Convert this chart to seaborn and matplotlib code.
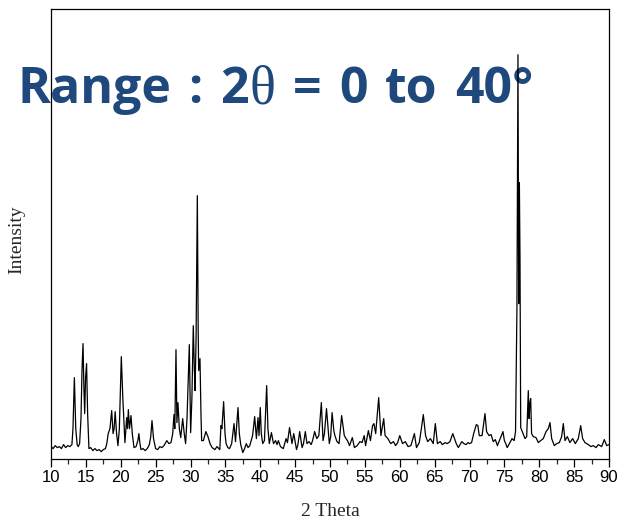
import matplotlib
matplotlib.use("Agg")
import matplotlib.pyplot as plt
import pandas as pd
import seaborn as sns
from matplotlib.offsetbox import TextArea, HPacker, AnnotationBbox
from matplotlib.ticker import MultipleLocator

# Powder diffraction pattern: scattering angle (degrees) and intensity (a.u.)
two_theta = [
    10.0, 10.3, 10.6, 10.9, 11.2, 11.5, 11.8, 12.1, 12.4, 12.7, 13.0, 13.15, 13.35, 13.55, 13.75,
    13.9, 14.1, 14.3, 14.45, 14.59, 14.72, 14.83, 14.95, 15.1, 15.25, 15.44, 15.7, 16.0, 16.3,
    16.6, 16.9, 17.2, 17.5, 17.8, 18.0, 18.2, 18.45, 18.7, 18.9, 19.05, 19.2, 19.4, 19.6, 19.8,
    20.08, 20.3, 20.6, 20.85, 20.97, 21.09, 21.25, 21.47, 21.65, 21.9, 22.2, 22.45, 22.6, 22.75,
    22.9, 23.2, 23.5, 23.8, 24.1, 24.3, 24.48, 24.7, 25.0, 25.3, 25.6, 25.9, 26.2, 26.6, 26.9,
    27.2, 27.45, 27.63, 27.75, 27.92, 28.05, 28.2, 28.4, 28.6, 28.88, 29.1, 29.3, 29.5, 29.83,
    30.02, 30.2, 30.4, 30.55, 30.65, 30.8, 30.98, 31.1, 31.17, 31.36, 31.5, 31.6, 31.85, 32.2,
    32.5, 32.8, 33.1, 33.5, 33.8, 34.2, 34.37, 34.5, 34.75, 34.95, 35.1, 35.35, 35.6, 35.9,
    36.24, 36.45, 36.81, 37.0, 37.2, 37.5, 37.75, 38.0, 38.25, 38.5, 38.9, 39.2, 39.45, 39.68,
    39.82, 40.0, 40.15, 40.35, 40.6, 40.92, 41.1, 41.3, 41.6, 41.9, 42.2, 42.4, 42.6, 42.9,
    43.3, 43.7, 43.9, 44.2, 44.55, 44.8, 45.2, 45.4, 45.65, 46.0, 46.2, 46.46, 46.7, 47.0, 47.3,
    47.5, 47.8, 48.1, 48.4, 48.76, 49.0, 49.2, 49.5, 49.9, 50.1, 50.3, 50.55, 50.7, 51.0, 51.3,
    51.67, 52.05, 52.3, 52.5, 52.8, 53.2, 53.5, 53.9, 54.3, 54.6, 54.9, 55.1, 55.5, 55.8, 56.1,
    56.3, 56.55, 56.98, 57.3, 57.7, 57.9, 58.3, 58.7, 59.1, 59.4, 59.7, 60.0, 60.4, 60.8, 61.2,
    61.6, 62.1, 62.4, 62.8, 63.1, 63.38, 63.7, 64.0, 64.4, 64.8, 65.1, 65.4, 65.8, 66.1, 66.5,
    66.8, 67.2, 67.6, 67.85, 68.1, 68.4, 68.9, 69.2, 69.5, 69.8, 70.0, 70.3, 70.6, 70.98, 71.2,
    71.4, 71.8, 72.22, 72.45, 72.8, 73.1, 73.4, 73.7, 74.0, 74.4, 74.8, 75.0, 75.2, 75.4, 75.8,
    76.1, 76.4, 76.6, 76.8, 76.95, 77.05, 77.15, 77.24, 77.34, 77.62, 77.96, 78.2, 78.43, 78.55,
    78.65, 78.77, 78.9, 79.15, 79.53, 79.87, 80.2, 80.58, 80.97, 81.3, 81.54, 81.78, 82.16,
    82.5, 82.88, 83.21, 83.45, 83.69, 84.02, 84.4, 84.79, 85.17, 85.6, 85.94, 86.22, 86.56,
    87.03, 87.42, 87.75, 88.14, 88.47, 88.95, 89.33, 89.67, 90.0,
]
intensity = [
    12, 10, 13, 11, 12, 10, 14, 11, 13, 12, 14, 30, 81, 30, 14,
    12, 15, 40, 90, 115, 70, 45, 80, 95, 45, 10, 11, 8, 10,
    8, 9, 7, 9, 10, 15, 25, 30, 48, 25, 30, 47, 25, 13, 30,
    102, 60, 16, 41, 30, 49, 30, 43, 25, 11, 12, 18, 25, 15,
    9, 10, 8, 10, 14, 22, 38, 20, 10, 9, 12, 11, 13, 18, 15,
    16, 25, 44, 30, 109, 36, 56, 30, 21, 40, 25, 15, 40, 114,
    26, 60, 133, 90, 68, 120, 263, 130, 88, 100, 45, 18, 18, 27,
    22, 15, 11, 9, 12, 9, 33, 30, 57, 25, 15, 11, 10, 15,
    35, 17, 51, 25, 14, 6, 10, 15, 11, 13, 23, 42, 20, 41,
    23, 51, 25, 15, 18, 73, 30, 15, 26, 15, 18, 14, 18, 12,
    10, 20, 16, 31, 15, 25, 9, 14, 27, 11, 15, 27, 15, 17, 14,
    18, 27, 20, 23, 56, 18, 25, 50, 15, 22, 46, 28, 23, 17, 15,
    43, 23, 20, 18, 13, 21, 11, 13, 17, 16, 23, 13, 28, 18, 33,
    35, 25, 61, 23, 40, 23, 20, 15, 17, 13, 16, 23, 15, 17, 12,
    13, 25, 11, 16, 30, 44, 23, 17, 20, 15, 35, 15, 17, 14, 16,
    15, 17, 25, 20, 15, 11, 17, 15, 14, 16, 15, 16, 25, 34, 33,
    23, 23, 45, 27, 23, 24, 17, 19, 13, 20, 27, 18, 15, 11, 16,
    20, 18, 27, 150, 404, 155, 276, 200, 31, 26, 20, 22, 68, 40,
    55, 60, 25, 22, 21, 16, 18, 20, 27, 30, 36, 20, 13,
    15, 16, 22, 35, 18, 22, 16, 20, 15, 20, 33, 20, 16,
    14, 12, 13, 11, 14, 12, 19, 13, 14,
]
x_ticks = list(range(10, 91, 5))

sns.set_style("ticks")
plt.rcParams["font.family"] = ["Liberation Sans", "DejaVu Sans"]

W, H = 621, 519
fig = plt.figure(figsize=(W / 100, H / 100), dpi=100)
ax_left, ax_right, ax_top, ax_bottom = 51, 609, 8.7, 458.6
ax = fig.add_axes([ax_left / W, (H - ax_bottom) / H,
                   (ax_right - ax_left) / W, (ax_bottom - ax_top) / H])

df = pd.DataFrame({"two_theta": two_theta, "intensity": intensity})
sns.lineplot(data=df, x="two_theta", y="intensity", ax=ax,
             color="black", linewidth=0.9, zorder=3)

ax.set_xlim(10, 90)
ax.set_ylim(0, 450)
ax.set_xticks(x_ticks)
ax.xaxis.set_minor_locator(MultipleLocator(2.5))
ax.set_yticks([])
ax.tick_params(axis="x", which="major", direction="out", length=6, width=0.9,
               pad=2, labelsize=12, colors="black")
ax.tick_params(axis="x", which="minor", direction="out", length=3.4, width=0.9)
for s in ax.spines.values():
    s.set_visible(True)
    s.set_linewidth(0.9)
    s.set_color("black")

ax.set_xlabel("2 Theta", family="Liberation Serif", fontsize=14)
ax.set_ylabel("Intensity", family="Liberation Serif", fontsize=14)
ax.xaxis.label.set_verticalalignment("center")
ax.yaxis.label.set_verticalalignment("center")
ax.xaxis.set_label_coords(0.5, (ax_bottom - 511) / (ax_bottom - ax_top))
ax.yaxis.set_label_coords((17 - ax_left) / (ax_right - ax_left),
                          (ax_bottom - 240) / (ax_bottom - ax_top))

# Headline: bold words with a serif theta, all sharing one baseline
blue = "#1F497D"
bold = dict(fontsize=36, fontweight="bold", color=blue, family="Open Sans")
serif = dict(fontsize=39, color=blue, family="Liberation Serif")
two_theta_sym = HPacker(children=[TextArea("2", textprops=bold),
                                  TextArea("θ", textprops=serif)],
                        align="baseline", pad=0, sep=1)
words = [TextArea("Range", textprops=bold), TextArea(":", textprops=bold),
         two_theta_sym, TextArea("=", textprops=bold), TextArea("0", textprops=bold),
         TextArea("to", textprops=bold), TextArea("40°", textprops=bold)]
headline = HPacker(children=words, align="baseline", pad=0, sep=12.5)
ab = AnnotationBbox(headline, (17, H - 115), xycoords="figure pixels",
                    box_alignment=(0, 0), frameon=False, pad=0)
ab.set_zorder(1)
ab.set_clip_on(False)
ax.add_artist(ab)

fig.savefig("out.png", dpi=100)
